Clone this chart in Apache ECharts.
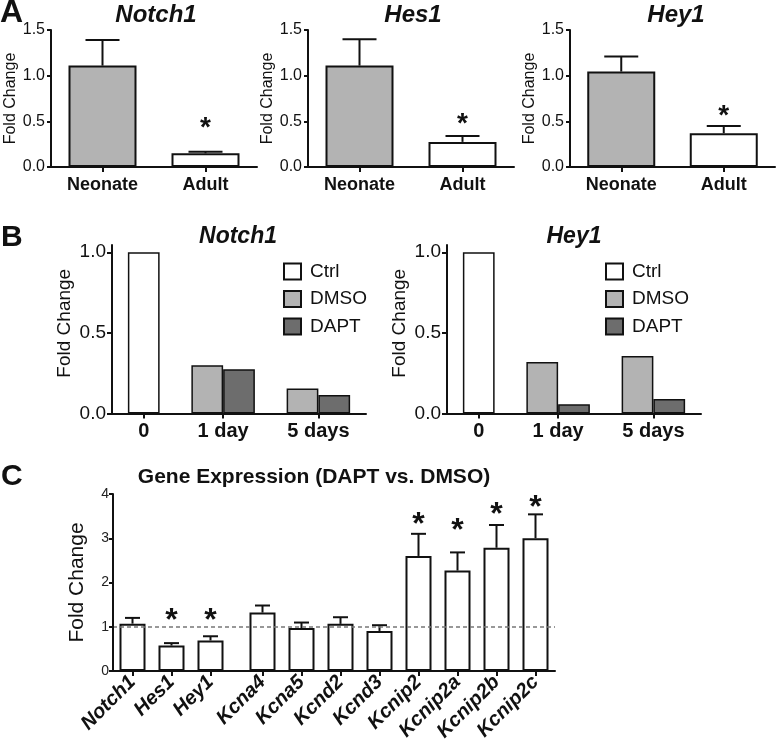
<!DOCTYPE html>
<html>
<head>
<meta charset="utf-8">
<script src="https://cdn.jsdelivr.net/npm/echarts@6/dist/echarts.min.js"></script>
<style>
html, body { margin: 0; padding: 0; background: #fff; }
#chart { width: 777px; height: 752px; }
</style>
</head>
<body>
<div id="chart"></div>
<script>
// ---------------- data ----------------
// A: neonate vs adult
const aCategories = ['Neonate', 'Adult'];
const aNotch1Mean = [1.11, 0.15];
const aNotch1Err = [0.28, 0.018];
const aNotch1Star = [null, 0.48];
const aHes1Mean = [1.11, 0.275];
const aHes1Err = [0.29, 0.065];
const aHes1Star = [null, 0.53];
const aHey1Mean = [1.045, 0.37];
const aHey1Err = [0.165, 0.08];
const aHey1Star = [null, 0.62];
const aTicks = [0, 0.5, 1.0, 1.5];

// B: time course, Ctrl / DMSO / DAPT
const bGroups = ['0', '1 day', '5 days'];
const bNotch1Ctrl = [1.0, null, null];
const bNotch1Dmso = [null, 0.30, 0.155];
const bNotch1Dapt = [null, 0.275, 0.114];
const bHey1Ctrl = [1.0, null, null];
const bHey1Dmso = [null, 0.32, 0.357];
const bHey1Dapt = [null, 0.057, 0.09];
const bTicks = [0, 0.5, 1.0];

// C: DAPT vs DMSO
const cGenes = ['Notch1', 'Hes1', 'Hey1', 'Kcna4', 'Kcna5', 'Kcnd2', 'Kcnd3', 'Kcnip2', 'Kcnip2a', 'Kcnip2b', 'Kcnip2c'];
const cMean = [1.07, 0.575, 0.69, 1.32, 0.97, 1.065, 0.905, 2.60, 2.27, 2.785, 3.00];
const cErr = [0.13, 0.055, 0.095, 0.16, 0.125, 0.15, 0.13, 0.50, 0.41, 0.515, 0.54];
const cStar = [null, 1.28, 1.28, null, null, null, null, 3.45, 3.30, 3.66, 3.82];
const cGroupBreak = 3; // small gap after Hey1
const cTicks = [0, 1, 2, 3, 4];

// ---------------- styles ----------------
const FONT = '"Liberation Sans", Arial, Helvetica, sans-serif';
const INK = '#111';
const GREY = '#b3b3b3';
const DARK = '#6d6d6d';

const grids = [
  { left: 51, top: 30, width: 206, height: 137 },     // A Notch1
  { left: 308, top: 30, width: 206, height: 137 },    // A Hes1
  { left: 570, top: 30, width: 205, height: 137 },    // A Hey1
  { left: 112, top: 245, width: 254, height: 168.5 }, // B Notch1
  { left: 447, top: 245, width: 254, height: 168.5 }, // B Hey1
  { left: 113, top: 494, width: 442, height: 177 }    // C
];

function lineAxis(width) {
  return {
    z: 5,
    axisLine: { show: true, lineStyle: { color: INK, width: width } },
    axisTick: { show: true, length: 5, lineStyle: { color: INK, width: width } },
    splitLine: { show: false }
  };
}

function errorSeries(ax, points, capW, lw) {
  return {
    type: 'custom', xAxisIndex: ax, yAxisIndex: ax, data: points, z: 3, silent: true,
    renderItem: function (params, api) {
      const base = api.coord([api.value(0), api.value(1)]);
      const top = api.coord([api.value(0), api.value(1) + api.value(2)]);
      const style = { stroke: INK, lineWidth: lw };
      return {
        type: 'group', children: [
          { type: 'line', shape: { x1: base[0], y1: base[1], x2: top[0], y2: top[1] }, style: style },
          { type: 'line', shape: { x1: top[0] - capW / 2, y1: top[1], x2: top[0] + capW / 2, y2: top[1] }, style: style }
        ]
      };
    }
  };
}

function starSeries(ax, points, fs) {
  return {
    type: 'custom', xAxisIndex: ax, yAxisIndex: ax, data: points, z: 4, silent: true,
    renderItem: function (params, api) {
      const p = api.coord([api.value(0), api.value(1)]);
      return {
        type: 'text', x: p[0], y: p[1] + fs * 0.2,
        style: { text: '*', fontSize: fs, fontWeight: 'bold', fontFamily: FONT, fill: INK, align: 'center', verticalAlign: 'middle' }
      };
    }
  };
}

const xAxes = [];
const yAxes = [];
const series = [];

// ---- panel A ----
const aPanels = [
  [aNotch1Mean, aNotch1Err, aNotch1Star],
  [aHes1Mean, aHes1Err, aHes1Star],
  [aHey1Mean, aHey1Err, aHey1Star]
];
aPanels.forEach(function (p, i) {
  const mean = p[0], err = p[1], star = p[2];
  xAxes.push(Object.assign(lineAxis(2), {
    type: 'category', gridIndex: i, data: aCategories,
    axisTick: { show: true, alignWithLabel: true, length: 5, lineStyle: { color: INK, width: 2 } },
    axisLabel: { interval: 0, margin: 9, color: INK, fontSize: 18, fontWeight: 'bold', fontFamily: FONT }
  }));
  yAxes.push(Object.assign(lineAxis(2), {
    type: 'value', gridIndex: i, min: 0, max: 1.5, interval: 0.5,
    axisTick: { show: true, length: 4, lineStyle: { color: INK, width: 2 } },
    axisLabel: { margin: 6, color: INK, fontSize: 16, fontFamily: FONT, customValues: aTicks,
      formatter: function (v) { return v.toFixed(1); } },
    name: 'Fold Change', nameLocation: 'middle', nameGap: 25,
    nameTextStyle: { color: INK, fontSize: 16, fontFamily: FONT }
  }));
  series.push({
    type: 'bar', xAxisIndex: i, yAxisIndex: i, barWidth: 68, silent: true,
    data: mean.map(function (v, k) {
      return { value: v, itemStyle: { color: k === 0 ? GREY : '#fff', borderColor: INK, borderWidth: 2 } };
    })
  });
  series.push(errorSeries(i, mean.map(function (v, k) { return [k, v, err[k]]; }), 34, 2));
  series.push(starSeries(i, star.map(function (v, k) { return [k, v]; }).filter(function (d) { return d[1] != null; }), 28));
});

// ---- panel B ----
function bLayout(ctrl, dmso, dapt) {
  const pos = { ctrl: [], dmso: [], dapt: [] };
  const centers = [];
  let cursor = 0.5;
  bGroups.forEach(function (g, i) {
    const xs = [];
    [['ctrl', ctrl], ['dmso', dmso], ['dapt', dapt]].forEach(function (e) {
      if (e[1][i] != null) {
        const x = cursor + 0.5;
        pos[e[0]].push([x, e[1][i]]);
        xs.push(x);
        cursor += 1;
      }
    });
    centers.push(xs.reduce(function (a, b) { return a + b; }, 0) / xs.length);
    cursor += 1;
  });
  return { pos: pos, centers: centers, max: cursor - 0.5 };
}

const bPanels = [
  [bNotch1Ctrl, bNotch1Dmso, bNotch1Dapt],
  [bHey1Ctrl, bHey1Dmso, bHey1Dapt]
];
bPanels.forEach(function (p, j) {
  const ax = 3 + j;
  const lay = bLayout(p[0], p[1], p[2]);
  const bw = grids[ax].width / lay.max;
  xAxes.push(Object.assign(lineAxis(2), {
    type: 'value', gridIndex: ax, min: 0, max: lay.max,
    axisTick: { show: true, length: 5, customValues: lay.centers, lineStyle: { color: INK, width: 2 } },
    axisLabel: { margin: 8, color: INK, fontSize: 20, fontWeight: 'bold', fontFamily: FONT, customValues: lay.centers,
      formatter: function (v) {
        const k = lay.centers.findIndex(function (c) { return Math.abs(c - v) < 1e-6; });
        return k >= 0 ? bGroups[k] : '';
      } }
  }));
  yAxes.push(Object.assign(lineAxis(2), {
    type: 'value', gridIndex: ax, min: 0, max: 1.045,
    axisTick: { show: true, length: 5, customValues: bTicks, lineStyle: { color: INK, width: 2 } },
    axisLabel: { margin: 6, color: INK, fontSize: 19, fontFamily: FONT, customValues: bTicks,
      formatter: function (v) { return v.toFixed(1); } },
    name: 'Fold Change', nameLocation: 'middle', nameGap: 38,
    nameTextStyle: { color: INK, fontSize: 19, fontFamily: FONT, padding: [0, 0, 0, 12] }
  }));
  [['Ctrl', lay.pos.ctrl, '#fff'], ['DMSO', lay.pos.dmso, GREY], ['DAPT', lay.pos.dapt, DARK]].forEach(function (s) {
    series.push({
      type: 'bar', name: s[0], xAxisIndex: ax, yAxisIndex: ax, data: s[1],
      barWidth: bw, barGap: '-100%', silent: true,
      itemStyle: { color: s[2], borderColor: INK, borderWidth: 1.5 }
    });
  });
});

// ---- panel C ----
const cPos = cGenes.map(function (g, i) { return i + 0.5 + (i >= cGroupBreak ? 1 / 3 : 0); });
const cMax = cGenes.length + 1 / 3;
const cBarW = 0.667 * grids[5].width / cMax;
xAxes.push(Object.assign(lineAxis(2), {
  type: 'value', gridIndex: 5, min: 0, max: cMax,
  axisTick: { show: true, length: 5, customValues: cPos, lineStyle: { color: INK, width: 2 } },
  axisLabel: { margin: 8, rotate: 45, color: INK, fontSize: 20, fontWeight: 'bold', fontStyle: 'italic', fontFamily: FONT,
    customValues: cPos,
    formatter: function (v) {
      const k = cPos.findIndex(function (c) { return Math.abs(c - v) < 1e-6; });
      return k >= 0 ? cGenes[k] : '';
    } }
}));
yAxes.push(Object.assign(lineAxis(2), {
  type: 'value', gridIndex: 5, min: 0, max: 4, interval: 1,
  axisTick: { show: true, length: 4, lineStyle: { color: INK, width: 2 } },
  axisLabel: { margin: 4, color: '#222', fontSize: 14, fontFamily: FONT, customValues: cTicks },
  name: 'Fold Change', nameLocation: 'middle', nameGap: 25,
  nameTextStyle: { color: INK, fontSize: 21, fontFamily: FONT }
}));
series.push({
  type: 'bar', xAxisIndex: 5, yAxisIndex: 5, barWidth: cBarW, silent: true,
  data: cMean.map(function (v, i) { return [cPos[i], v]; }),
  itemStyle: { color: '#fff', borderColor: INK, borderWidth: 2 },
  markLine: {
    silent: true, symbol: ['none', 'none'], label: { show: false },
    lineStyle: { type: [4, 3], color: '#777', width: 1.5 },
    data: [{ yAxis: 1 }]
  }
});
series.push(errorSeries(5, cMean.map(function (v, i) { return [cPos[i], v, cErr[i]]; }), 15, 2));
series.push(starSeries(5, cStar.map(function (v, i) { return [cPos[i], v]; }).filter(function (d) { return d[1] != null; }), 32));

// ---- titles and panel letters ----
function label(text, x, y, size, italic, align) {
  return {
    type: 'text', x: x, y: y, silent: true,
    style: { text: text, fontSize: size, fontWeight: 'bold', fontStyle: italic ? 'italic' : 'normal',
      fontFamily: FONT, fill: INK, align: align || 'center', verticalAlign: 'middle' }
  };
}

const legendBase = {
  orient: 'vertical', padding: 0, itemWidth: 17, itemHeight: 16, itemGap: 8.5,
  icon: 'rect', selectedMode: false, data: ['Ctrl', 'DMSO', 'DAPT'],
  textStyle: { color: INK, fontSize: 19, fontFamily: FONT, padding: [0, 0, 0, 4] }
};

const chart = echarts.init(document.getElementById('chart'));
chart.setOption({
  animation: false,
  backgroundColor: '#fff',
  grid: grids,
  xAxis: xAxes,
  yAxis: yAxes,
  legend: [
    Object.assign({}, legendBase, { left: 283, top: 262 }),
    Object.assign({}, legendBase, { left: 605, top: 262 })
  ],
  graphic: [
    label('A', 0, 13, 32, false, 'left'),
    label('B', 1, 238, 30, false, 'left'),
    label('C', 1, 477, 30, false, 'left'),
    label('Notch1', 156, 15, 24, true),
    label('Hes1', 413, 15, 24, true),
    label('Hey1', 676, 15, 24, true),
    label('Notch1', 238, 237, 23, true),
    label('Hey1', 574, 237, 23, true),
    label('Gene Expression (DAPT vs. DMSO)', 314, 477, 21, false)
  ],
  series: series
});
</script>
</body>
</html>
